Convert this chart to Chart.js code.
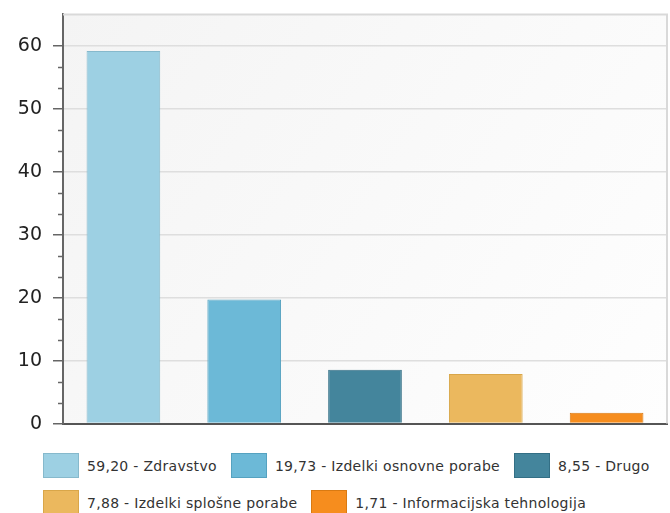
<!DOCTYPE html>
<html>
<head>
<meta charset="utf-8">
<script src="https://cdn.jsdelivr.net/npm/chart.js@4.4.0/dist/chart.umd.min.js"></script>
<style>
  html, body { margin: 0; padding: 0; background: #fff; overflow: hidden; }
  body { position: relative; width: 670px; height: 513px; }
  #wrap { position: absolute; left: 0; top: -8px; width: 670px; height: 454px; }
  #legenda { position: absolute; left: 43px; top: 453px; width: 640px; display: flex; flex-wrap: wrap; row-gap: 12px;
             font-family: 'DejaVu Sans', sans-serif; font-size: 14px; letter-spacing: 0.3px; color: #333; }
  .el { display: flex; align-items: center; height: 25px; margin-right: 14px; white-space: nowrap; }
  .kv { width: 34px; height: 23px; border: 1.5px solid; margin-right: 8px; }
</style>
</head>
<body>
<div id="wrap"><canvas id="chartSektorji"></canvas></div>
<div id="legenda"></div>
<script>
// podatki
const kategorije = ['Zdravstvo', 'Izdelki osnovne porabe', 'Drugo', 'Izdelki splošne porabe', 'Informacijska tehnologija'];
const vrednosti = [59.20, 19.73, 8.55, 7.88, 1.71];
const barve = ['#9dd0e3', '#6cb9d7', '#44859c', '#ebb85e', '#f68d1e'];
const robovi = ['#86b9cc', '#55a2c0', '#336f85', '#d9a649', '#d97a12'];
const yMin = 0;
const yMax = 65;
const yKorak = 10 / 3;

const jeGlavna = v => Math.abs(v / 10 - Math.round(v / 10)) < 1e-6;

// ozadje in okvir risalne ploskve
const ozadjePlugin = {
    id: 'ozadje',
    beforeDraw(chart) {
        const { ctx, chartArea: a } = chart;
        const g = ctx.createLinearGradient(a.left, a.top, a.right, a.bottom);
        g.addColorStop(0, '#f4f4f4');
        g.addColorStop(1, '#fefefe');
        ctx.save();
        ctx.fillStyle = g;
        ctx.fillRect(a.left, a.top, a.right - a.left, a.bottom - a.top);
        ctx.restore();
    },
    afterDraw(chart) {
        const { ctx, chartArea: a } = chart;
        const y = chart.scales.y;
        ctx.save();
        ctx.strokeStyle = '#d9d9d9';
        ctx.lineWidth = 2;
        ctx.beginPath();
        ctx.moveTo(a.left, a.top);
        ctx.lineTo(a.right, a.top);
        ctx.lineTo(a.right, a.bottom);
        ctx.stroke();
        // pomožne oznake na osi y
        ctx.strokeStyle = '#666';
        ctx.lineWidth = 1.5;
        y.ticks.forEach(t => {
            if (jeGlavna(t.value) || t.value > yMax - 1) return;
            const py = Math.round(y.getPixelForValue(t.value)) + 0.5;
            ctx.beginPath();
            ctx.moveTo(a.left - 5, py);
            ctx.lineTo(a.left, py);
            ctx.stroke();
        });
        ctx.restore();
    }
};

const ctx = document.getElementById('chartSektorji').getContext('2d');

new Chart(ctx, {
    type: 'bar',
    data: {
        labels: kategorije,
        datasets: [{
            data: vrednosti,
            backgroundColor: barve,
            borderColor: robovi,
            borderWidth: 1,
            borderSkipped: 'bottom',
            categoryPercentage: 1,
            barPercentage: 0.61
        }]
    },
    options: {
        responsive: true,
        maintainAspectRatio: false,
        animation: false,
        layout: { padding: { top: 0, right: 3, left: 0, bottom: 0 } },
        plugins: {
            tooltip: { enabled: false },
            legend: { display: false }
        },
        scales: {
            x: {
                ticks: { display: false },
                grid: { display: false, drawTicks: false },
                border: { display: true, color: '#555', width: 2 },
                afterFit: s => { s.height = 18; }
            },
            y: {
                min: yMin,
                max: yMax,
                afterFit: s => { s.width = 63; },
                ticks: {
                    stepSize: yKorak,
                    autoSkip: false,
                    padding: 11,
                    color: '#222',
                    font: { family: 'DejaVu Sans', size: 19 },
                    callback: v => jeGlavna(v) ? String(Math.round(v)) : ''
                },
                grid: {
                    tickLength: 10,
                    lineWidth: 1.5,
                    color: c => (jeGlavna(c.tick.value) && c.tick.value > 0 && c.tick.value < yMax) ? '#dedede' : 'transparent',
                    tickColor: c => jeGlavna(c.tick.value) ? '#666' : 'transparent'
                },
                border: { display: true, color: '#666', width: 2 }
            }
        }
    },
    plugins: [ozadjePlugin]
});

// legenda
const legenda = document.getElementById('legenda');
kategorije.forEach((k, i) => {
    const el = document.createElement('div');
    el.className = 'el';
    const kv = document.createElement('span');
    kv.className = 'kv';
    kv.style.background = barve[i];
    kv.style.borderColor = robovi[i];
    const t = document.createElement('span');
    t.textContent = vrednosti[i].toFixed(2).replace('.', ',') + ' - ' + k;
    el.appendChild(kv);
    el.appendChild(t);
    legenda.appendChild(el);
});
</script>
</body>
</html>
